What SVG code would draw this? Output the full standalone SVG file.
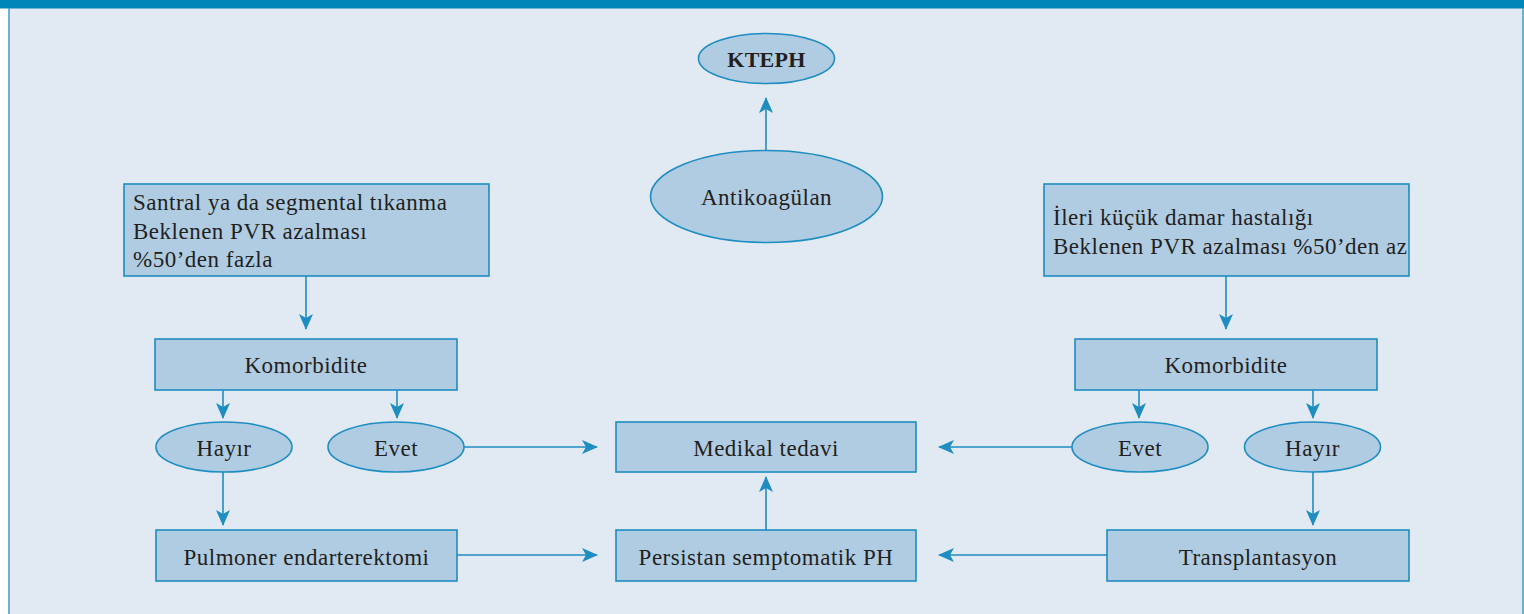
<svg xmlns="http://www.w3.org/2000/svg" width="1524" height="614" viewBox="0 0 1524 614">
<defs>
<style>
.bg{fill:#E1E9F3}
.n{fill:#B0CCE3;stroke:#1E8DC1;stroke-width:1.6}
.t{font-family:"Liberation Serif","Times New Roman",serif;font-size:23px;fill:#231F20;letter-spacing:0.5px}
.c{text-anchor:middle}
.b{font-weight:bold;font-size:22px;letter-spacing:0.3px}
.e{fill:none;stroke:#1E8DC1;stroke-width:1.6}
</style>
<marker id="ah" viewBox="0 0 16 14" refX="15" refY="7" markerWidth="16" markerHeight="14" markerUnits="userSpaceOnUse" orient="auto">
<path d="M0,0 L16,7 L0,14 L4,7 Z" fill="#1E8DC1"/>
</marker>
</defs>
<rect x="0" y="0" width="1524" height="614" fill="#FFFFFF"/>
<rect class="bg" x="9" y="8" width="1514" height="606"/>
<rect x="0" y="0" width="1524" height="8.5" fill="#0086B7"/>
<line x1="9" y1="8" x2="9" y2="614" stroke="#3E9CC8" stroke-width="1.5"/>
<line x1="1523" y1="8" x2="1523" y2="614" stroke="#3E9CC8" stroke-width="1.5"/>

<g id="connectors">
<path class="e" d="M766,150 V98" marker-end="url(#ah)"/>
<path class="e" d="M306,276 V329" marker-end="url(#ah)"/>
<path class="e" d="M1226,276 V329" marker-end="url(#ah)"/>
<path class="e" d="M223,390 V418" marker-end="url(#ah)"/>
<path class="e" d="M397,390 V418" marker-end="url(#ah)"/>
<path class="e" d="M1139,390 V418" marker-end="url(#ah)"/>
<path class="e" d="M1313,390 V418" marker-end="url(#ah)"/>
<path class="e" d="M464,447 H597" marker-end="url(#ah)"/>
<path class="e" d="M1072,447 H939" marker-end="url(#ah)"/>
<path class="e" d="M223,472 V525" marker-end="url(#ah)"/>
<path class="e" d="M1313,472 V525" marker-end="url(#ah)"/>
<path class="e" d="M457,555 H597" marker-end="url(#ah)"/>
<path class="e" d="M1107,555 H939" marker-end="url(#ah)"/>
<path class="e" d="M766,530 V477" marker-end="url(#ah)"/>
</g>

<g id="kteph">
<ellipse class="n" cx="766.5" cy="58.5" rx="68" ry="25"/>
<text class="t c b" x="766.5" y="66.5">KTEPH</text>
</g>
<g id="antikoagulan">
<ellipse class="n" cx="766.5" cy="196.5" rx="116" ry="46"/>
<text class="t c" x="766.5" y="205">Antikoagülan</text>
</g>
<g id="santral">
<rect class="n" x="124" y="184" width="365" height="92"/>
<text class="t" x="133" y="210">Santral ya da segmental tıkanma</text>
<text class="t" x="133" y="238.5">Beklenen PVR azalması</text>
<text class="t" x="133" y="267">%50’den fazla</text>
</g>
<g id="ileri">
<rect class="n" x="1044" y="184" width="365" height="92"/>
<text class="t" x="1053" y="225">İleri küçük damar hastalığı</text>
<text class="t" x="1053" y="254">Beklenen PVR azalması %50’den az</text>
</g>
<g id="komorbidite-left">
<rect class="n" x="155" y="339" width="302" height="51"/>
<text class="t c" x="306" y="373">Komorbidite</text>
</g>
<g id="komorbidite-right">
<rect class="n" x="1075" y="339" width="302" height="51"/>
<text class="t c" x="1226" y="373">Komorbidite</text>
</g>
<g id="hayir-left">
<ellipse class="n" cx="224" cy="447" rx="68" ry="25"/>
<text class="t c" x="224" y="456">Hayır</text>
</g>
<g id="evet-left">
<ellipse class="n" cx="396" cy="447" rx="68" ry="25"/>
<text class="t c" x="396" y="456">Evet</text>
</g>
<g id="evet-right">
<ellipse class="n" cx="1140" cy="447" rx="68" ry="25"/>
<text class="t c" x="1140" y="456">Evet</text>
</g>
<g id="hayir-right">
<ellipse class="n" cx="1312.5" cy="447" rx="68" ry="25"/>
<text class="t c" x="1312.5" y="456">Hayır</text>
</g>
<g id="medikal">
<rect class="n" x="616" y="422" width="300" height="50"/>
<text class="t c" x="766" y="456">Medikal tedavi</text>
</g>
<g id="pulmoner">
<rect class="n" x="156" y="530" width="301" height="51"/>
<text class="t c" x="306.5" y="565">Pulmoner endarterektomi</text>
</g>
<g id="persistan">
<rect class="n" x="616" y="530" width="300" height="51"/>
<text class="t c" x="766" y="565">Persistan semptomatik PH</text>
</g>
<g id="transplantasyon">
<rect class="n" x="1107" y="530" width="302" height="51"/>
<text class="t c" x="1258" y="565">Transplantasyon</text>
</g>
</svg>
